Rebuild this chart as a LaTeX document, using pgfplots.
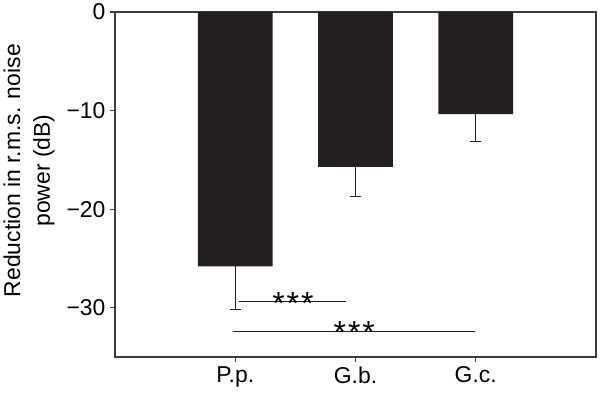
\documentclass[border=0pt]{standalone}
\usepackage{pgfplots}
\pgfplotsset{compat=1.18}
\usepackage{fontspec}
\setmainfont{Liberation Sans}
\definecolor{barc}{RGB}{35,31,32}
\definecolor{axc}{RGB}{60,60,60}
\begin{document}
\begin{tikzpicture}
\useasboundingbox (-115bp,-43bp) rectangle (486bp,357bp);
\begin{axis}[
  scale only axis, width=481bp, height=345bp,
  xmin=0, xmax=4, ymin=-35, ymax=0,
  xtick={1,2,3}, xticklabels={P.p.,G.b.,G.c.},
  ytick={0,-10,-20,-30}, yticklabels={0,−10,−20,−30},
  tick align=outside, tick pos=left, major tick length=5bp,
  axis line style={axc, line width=1.2bp},
  tick style={axc, line width=1.2bp},
  font=\fontsize{23}{27}\selectfont,
  yticklabel style={xshift=-1bp},
  xticklabel style={yshift=-1bp},
  ylabel={Reduction in r.m.s. noise\\power (dB)},
  ylabel style={align=center, font=\fontsize{23}{30}\selectfont,
    at={(axis description cs:-0.118,0.54)}, anchor=south},
  clip=false,
]
\addplot[ybar, bar width=0.62, fill=barc, draw=none,
  error bars/.cd, y dir=minus, y explicit,
  error bar style={line width=1.2bp, barc},
  error mark options={rotate=90, mark size=5.5bp, line width=1.2bp, barc}]
  coordinates {(1,-25.8) +- (0,4.4) (2,-15.7) +- (0,3.0) (3,-10.35) +- (0,2.75)};
\addplot[no marks, line width=1.2bp, barc] coordinates {(1.03,-29.4) (1.92,-29.4)};
\addplot[no marks, line width=1.2bp, barc] coordinates {(0.98,-32.4) (2.99,-32.4)};
\node[anchor=base, font=\fontsize{32}{32}\selectfont, yshift=-12.4bp] at (axis cs:1.48,-29.4) {*\hspace{2bp}*\hspace{2bp}*};
\node[anchor=base, font=\fontsize{32}{32}\selectfont, yshift=-12.4bp] at (axis cs:1.99,-32.4) {*\hspace{2bp}*\hspace{2bp}*};
\end{axis}
\end{tikzpicture}
\end{document}
